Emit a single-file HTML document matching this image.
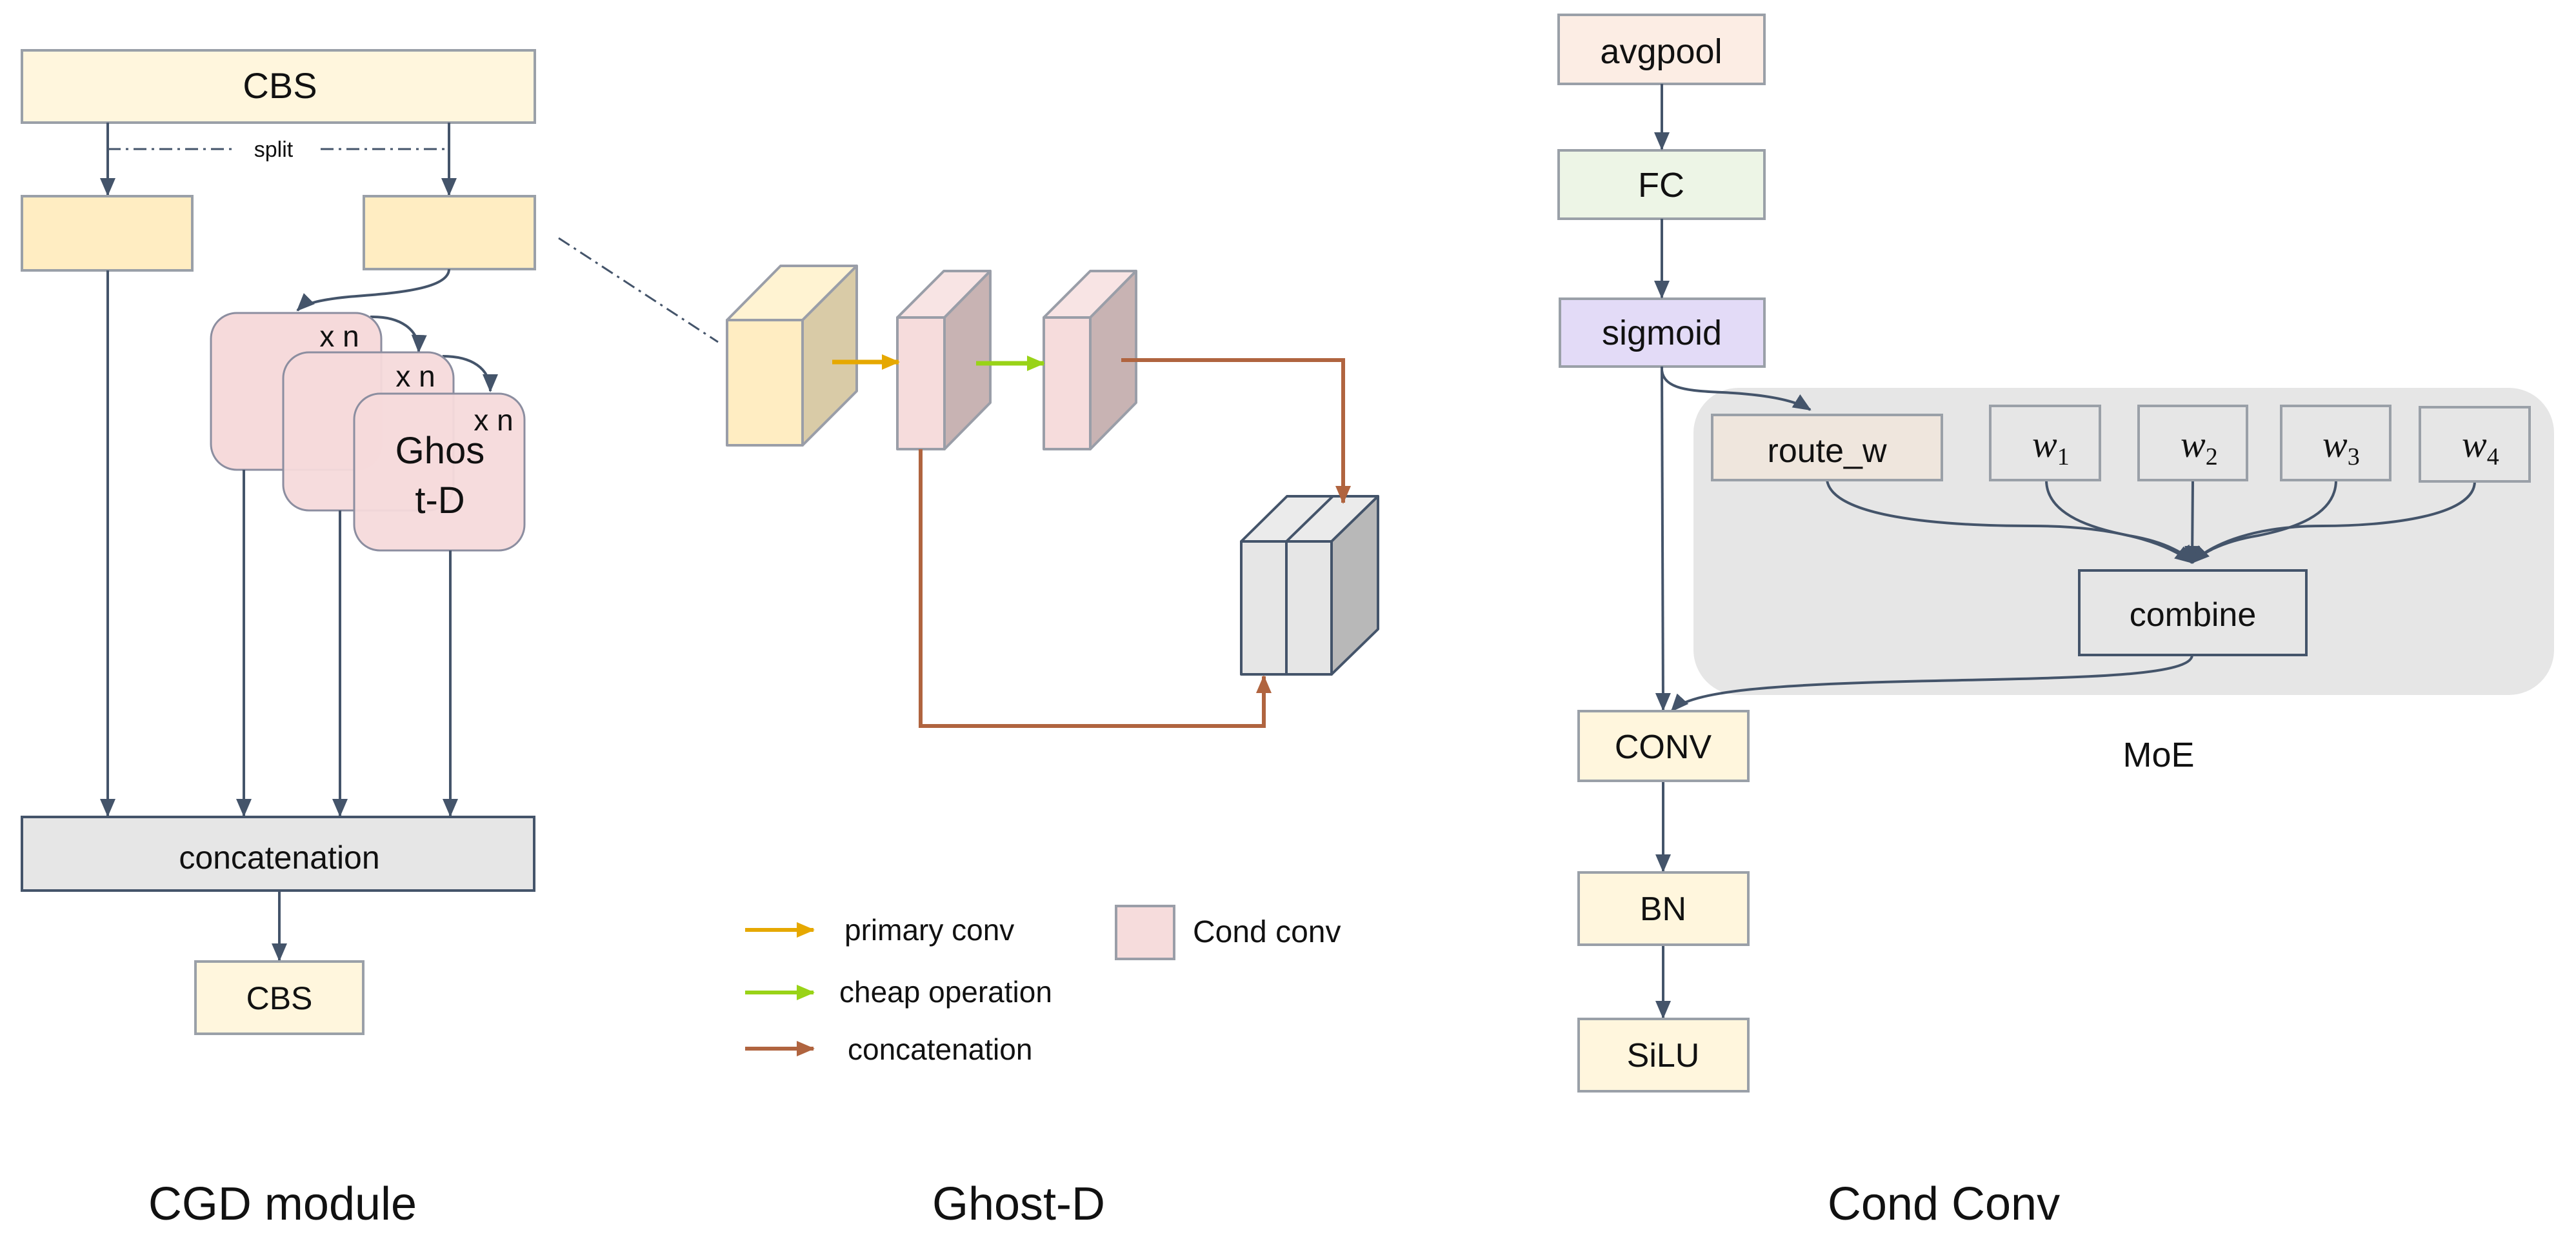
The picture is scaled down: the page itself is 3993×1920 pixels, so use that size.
<!DOCTYPE html>
<html><head><meta charset="utf-8"><style>
html,body{margin:0;padding:0;background:#fff;}
svg{display:block;}
text{font-family:"Liberation Sans","Noto Sans CJK SC",sans-serif;fill:#111;}
</style></head><body>
<svg width="3993" height="1920" viewBox="0 0 3993 1920" xmlns="http://www.w3.org/2000/svg">
<defs>
<marker id="a" markerUnits="userSpaceOnUse" markerWidth="30" markerHeight="30" refX="26" refY="15" orient="auto"><path d="M0,3 L28,15 L0,27 Z" fill="#44546a"/></marker>
<marker id="ab" markerUnits="userSpaceOnUse" markerWidth="30" markerHeight="30" refX="26" refY="15" orient="auto"><path d="M0,3 L28,15 L0,27 Z" fill="#b0643f"/></marker>
<marker id="ao" markerUnits="userSpaceOnUse" markerWidth="30" markerHeight="30" refX="26" refY="15" orient="auto"><path d="M0,3 L28,15 L0,27 Z" fill="#e6a800"/></marker>
<marker id="ag" markerUnits="userSpaceOnUse" markerWidth="30" markerHeight="30" refX="26" refY="15" orient="auto"><path d="M0,3 L28,15 L0,27 Z" fill="#99d317"/></marker>
</defs>

<!-- CGD module -->
<rect x="34" y="78" width="795" height="112" fill="#fff6dd" stroke="#9aa0a8" stroke-width="4"/>
<text x="434" y="152" font-size="56" text-anchor="middle">CBS</text>
<g stroke="#44546a" stroke-width="4" fill="none">
<line x1="167" y1="190" x2="167" y2="302" marker-end="url(#a)"/>
<line x1="696" y1="190" x2="696" y2="302" marker-end="url(#a)"/>
<line x1="167" y1="231" x2="360" y2="231" stroke-dasharray="20,8,4,8" stroke-width="3"/>
<line x1="497" y1="231" x2="696" y2="231" stroke-dasharray="20,8,4,8" stroke-width="3"/>
</g>
<text x="424" y="243" font-size="34" text-anchor="middle">split</text>
<rect x="34" y="304" width="264" height="115" fill="#ffedc2" stroke="#9aa0a8" stroke-width="4"/>
<rect x="564" y="304" width="265" height="113" fill="#ffedc2" stroke="#9aa0a8" stroke-width="4"/>
<g stroke="#44546a" stroke-width="4" fill="none">
<path d="M696 417 C696 450 600 455 540 460 C490 465 470 472 461 481" marker-end="url(#a)"/>
<path d="M574 491 C620 490 650 510 649 545" marker-end="url(#a)"/>
<path d="M686 552 C730 552 760 570 760 606" marker-end="url(#a)"/>
</g>
<rect x="327" y="485" width="264" height="243" rx="40" fill="#f6dadb" stroke="#8c8ea0" stroke-width="3"/>
<text x="526" y="537" font-size="46" text-anchor="middle">x n</text>
<rect x="439" y="546" width="264" height="245" rx="40" fill="#f6dadb" fill-opacity="0.95" stroke="#8c8ea0" stroke-width="3"/>
<text x="644" y="599" font-size="46" text-anchor="middle">x n</text>
<rect x="549" y="610" width="264" height="243" rx="40" fill="#f6dadb" fill-opacity="0.95" stroke="#8c8ea0" stroke-width="3"/>
<text x="765" y="667" font-size="46" text-anchor="middle">x n</text>
<text x="682" y="718" font-size="58" text-anchor="middle">Ghos</text>
<text x="682" y="795" font-size="58" text-anchor="middle">t-D</text>
<g stroke="#44546a" stroke-width="4" fill="none">
<line x1="167" y1="419" x2="167" y2="1264" marker-end="url(#a)"/>
<line x1="378" y1="728" x2="378" y2="1264" marker-end="url(#a)"/>
<line x1="527" y1="791" x2="527" y2="1264" marker-end="url(#a)"/>
<line x1="698" y1="853" x2="698" y2="1264" marker-end="url(#a)"/>
<line x1="433" y1="1380" x2="433" y2="1488" marker-end="url(#a)"/>
<line x1="866" y1="369" x2="1113" y2="530" stroke-dasharray="20,8,4,8" stroke-width="3"/>
</g>
<rect x="34" y="1266" width="794" height="114" fill="#e6e6e6" stroke="#44546a" stroke-width="4"/>
<text x="433" y="1346" font-size="50" text-anchor="middle">concatenation</text>
<rect x="303" y="1490" width="260" height="112" fill="#fff6dd" stroke="#9aa0a8" stroke-width="4"/>
<text x="433" y="1564" font-size="50" text-anchor="middle">CBS</text>

<!-- Ghost-D -->
<g stroke="#9a9ea8" stroke-width="4" stroke-linejoin="round">
<path d="M1127 496 L1210 412 L1328 412 L1244 496 Z" fill="#fff3d2"/>
<path d="M1244 496 L1328 412 L1328 606 L1244 690 Z" fill="#d9cba7"/>
<rect x="1127" y="496" width="117" height="194" fill="#ffedc2"/>
<path d="M1391 492 L1463 420 L1535 420 L1464 492 Z" fill="#f8e4e4"/>
<path d="M1464 492 L1535 420 L1535 624 L1464 696 Z" fill="#c8b3b3"/>
<rect x="1391" y="492" width="73" height="204" fill="#f6dcdc"/>
<path d="M1618 492 L1690 420 L1761 420 L1690 492 Z" fill="#f8e4e4"/>
<path d="M1690 492 L1761 420 L1761 624 L1690 696 Z" fill="#c8b3b3"/>
<rect x="1618" y="492" width="72" height="204" fill="#f6dcdc"/>
</g>
<g stroke="#44546a" stroke-width="4" stroke-linejoin="round">
<path d="M1924 839 L1995 769 L2136 769 L2064 839 Z" fill="#ebebeb"/>
<line x1="1994" y1="839" x2="2066" y2="769"/>
<path d="M2064 839 L2136 769 L2136 975 L2064 1045 Z" fill="#b8b8b8"/>
<rect x="1924" y="839" width="140" height="206" fill="#e6e6e6"/>
<line x1="1994" y1="839" x2="1994" y2="1045"/>
</g>
<line x1="1290" y1="561" x2="1393" y2="561" stroke="#e6a800" stroke-width="7" marker-end="url(#ao)"/>
<line x1="1513" y1="563" x2="1618" y2="563" stroke="#99d317" stroke-width="7" marker-end="url(#ag)"/>
<g stroke="#b0643f" stroke-width="6" fill="none">
<path d="M1738 558 L2082 558 L2082 779" marker-end="url(#ab)"/>
<path d="M1427 696 L1427 1125 L1959 1125 L1959 1048" marker-end="url(#ab)"/>
</g>

<!-- legend -->
<line x1="1155" y1="1441" x2="1261" y2="1441" stroke="#e6a800" stroke-width="6" marker-end="url(#ao)"/>
<line x1="1155" y1="1538" x2="1261" y2="1538" stroke="#99d317" stroke-width="6" marker-end="url(#ag)"/>
<line x1="1155" y1="1625" x2="1261" y2="1625" stroke="#b0643f" stroke-width="6" marker-end="url(#ab)"/>
<text x="1309" y="1457" font-size="46">primary conv</text>
<text x="1301" y="1553" font-size="46">cheap operation</text>
<text x="1314" y="1642" font-size="46">concatenation</text>
<rect x="1730" y="1404" width="90" height="82" fill="#f6dcdc" stroke="#9a9ea8" stroke-width="4"/>
<text x="1849" y="1460" font-size="48">Cond conv</text>

<!-- Cond Conv -->
<rect x="2625" y="601" width="1334" height="476" rx="70" fill="#e6e6e6"/>
<rect x="2416" y="23" width="319" height="107" fill="#fcede4" stroke="#9aa0a8" stroke-width="4"/>
<text x="2575" y="98" font-size="54" text-anchor="middle">avgpool</text>
<rect x="2416" y="233" width="319" height="106" fill="#edf5e6" stroke="#9aa0a8" stroke-width="4"/>
<text x="2575" y="305" font-size="54" text-anchor="middle">FC</text>
<rect x="2418" y="463" width="317" height="105" fill="#e3dbf7" stroke="#9aa0a8" stroke-width="4"/>
<text x="2576" y="534" font-size="54" text-anchor="middle">sigmoid</text>
<g stroke="#44546a" stroke-width="4" fill="none">
<line x1="2576" y1="130" x2="2576" y2="231" marker-end="url(#a)"/>
<line x1="2576" y1="339" x2="2576" y2="461" marker-end="url(#a)"/>
<line x1="2576" y1="568" x2="2578" y2="1100" marker-end="url(#a)"/>
<path d="M2576 574 C2580 610 2640 605 2700 610 C2760 615 2790 625 2806 635" marker-end="url(#a)"/>
<path d="M2832 744 C2840 800 3000 815 3150 815 C3300 815 3370 850 3398 872" marker-end="url(#a)"/>
<path d="M3172 744 C3172 800 3250 820 3300 830 C3360 840 3390 860 3398 872" marker-end="url(#a)"/>
<path d="M3399 744 L3398 872" marker-end="url(#a)"/>
<path d="M3621 744 C3621 800 3550 820 3500 830 C3440 840 3410 860 3398 872" marker-end="url(#a)"/>
<path d="M3836 746 C3836 800 3700 815 3600 815 C3480 815 3420 850 3398 872" marker-end="url(#a)"/>
<path d="M3398 1015 C3398 1050 3200 1050 3000 1055 C2750 1060 2620 1070 2591 1102" marker-end="url(#a)"/>
<line x1="2578" y1="1210" x2="2578" y2="1350" marker-end="url(#a)"/>
<line x1="2578" y1="1464" x2="2578" y2="1577" marker-end="url(#a)"/>
</g>
<rect x="2654" y="643" width="356" height="101" fill="#efe6dd" stroke="#9aa0a8" stroke-width="4"/>
<text x="2832" y="716" font-size="52" text-anchor="middle">route_w</text>
<g fill="#e6e6e6" stroke="#9aa0a8" stroke-width="4">
<rect x="3085" y="629" width="170" height="115"/>
<rect x="3315" y="629" width="168" height="115"/>
<rect x="3536" y="629" width="169" height="115"/>
<rect x="3751" y="631" width="170" height="115"/>
</g>
<g font-size="58" font-style="italic">
<text x="3150" y="708" style="font-family:'Liberation Serif',serif">w<tspan font-size="38" font-style="normal" dy="12">1</tspan></text>
<text x="3380" y="708" style="font-family:'Liberation Serif',serif">w<tspan font-size="38" font-style="normal" dy="12">2</tspan></text>
<text x="3600" y="708" style="font-family:'Liberation Serif',serif">w<tspan font-size="38" font-style="normal" dy="12">3</tspan></text>
<text x="3816" y="708" style="font-family:'Liberation Serif',serif">w<tspan font-size="38" font-style="normal" dy="12">4</tspan></text>
</g>
<rect x="3223" y="884" width="352" height="131" fill="#e6e6e6" stroke="#44546a" stroke-width="4"/>
<text x="3399" y="970" font-size="52" text-anchor="middle">combine</text>
<text x="3346" y="1188" font-size="54" text-anchor="middle">MoE</text>
<rect x="2447" y="1102" width="263" height="108" fill="#fff6dd" stroke="#9aa0a8" stroke-width="4"/>
<text x="2578" y="1175" font-size="52" text-anchor="middle">CONV</text>
<rect x="2447" y="1352" width="263" height="112" fill="#fff6dd" stroke="#9aa0a8" stroke-width="4"/>
<text x="2578" y="1426" font-size="52" text-anchor="middle">BN</text>
<rect x="2447" y="1579" width="263" height="112" fill="#fff6dd" stroke="#9aa0a8" stroke-width="4"/>
<text x="2578" y="1653" font-size="52" text-anchor="middle">SiLU</text>

<!-- titles -->
<text x="438" y="1890" font-size="72" text-anchor="middle">CGD module</text>
<text x="1579" y="1890" font-size="72" text-anchor="middle">Ghost-D</text>
<text x="3013" y="1890" font-size="72" text-anchor="middle">Cond Conv</text>
</svg>
</body></html>
